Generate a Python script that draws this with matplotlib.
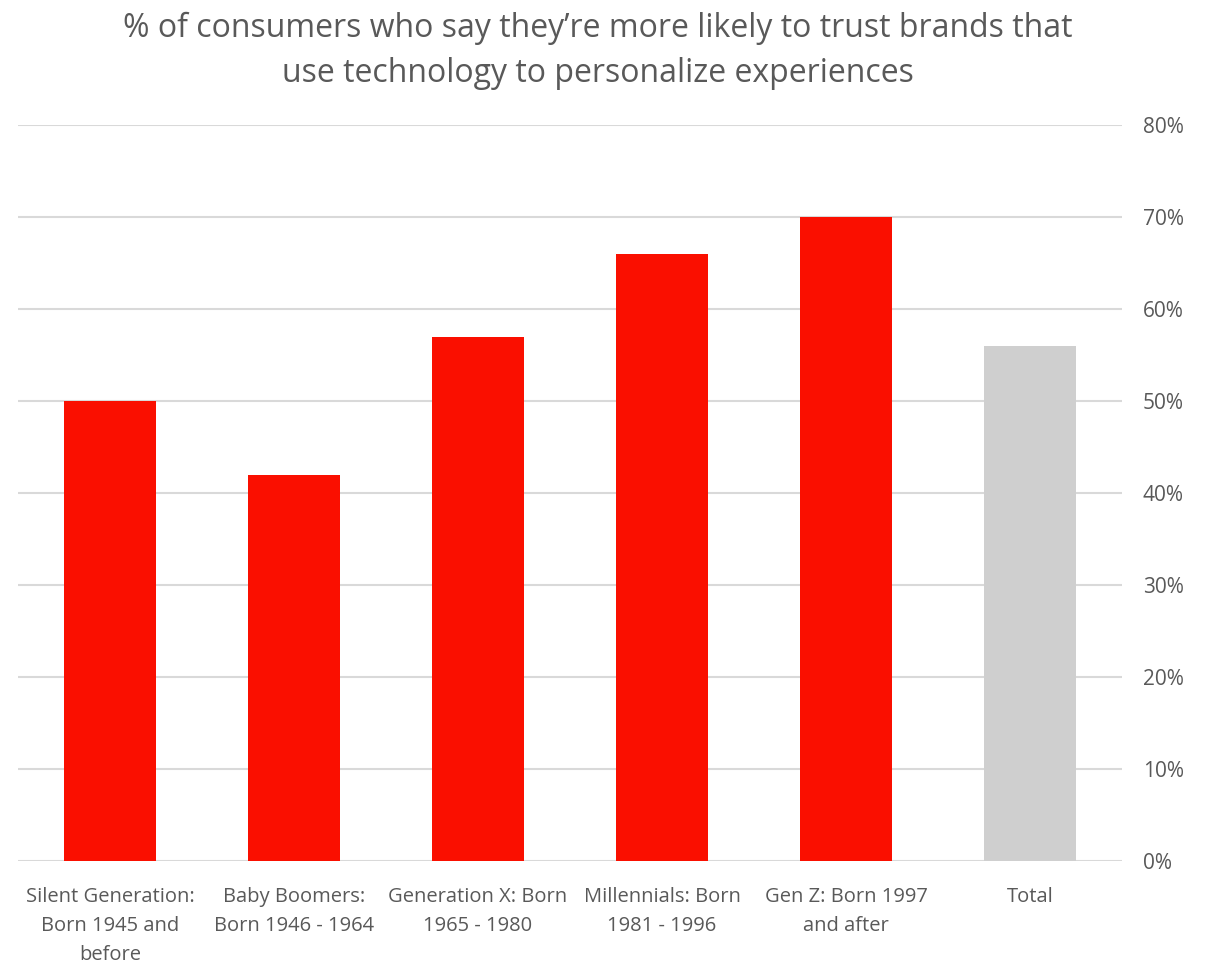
import matplotlib.pyplot as plt
from matplotlib.ticker import PercentFormatter

# share of consumers who trust brands that personalize with technology
categories = [
    "Silent Generation:\nBorn 1945 and\nbefore",
    "Baby Boomers:\nBorn 1946 - 1964",
    "Generation X: Born\n1965 - 1980",
    "Millennials: Born\n1981 - 1996",
    "Gen Z: Born 1997\nand after",
    "Total",
]
values = [0.50, 0.42, 0.57, 0.66, 0.70, 0.56]
bar_colors = ["#FA0F00"] * 5 + ["#CFCFCF"]

TEXT = "#595959"
GRID = "#D9D9D9"

plt.rcParams["font.family"] = ["Open Sans", "DejaVu Sans"]

fig = plt.figure(figsize=(12.11, 9.64), dpi=100)
ax = fig.add_axes([18 / 1211, 1 - 861 / 964, (1122 - 18) / 1211, (861 - 125) / 964])

x = range(len(categories))
ax.bar(x, values, width=0.5, color=bar_colors, zorder=3)

ax.set_xlim(-0.5, len(categories) - 0.5)
ax.set_ylim(0, 0.8)
ax.set_yticks([i / 10 for i in range(9)])
ax.yaxis.set_major_formatter(PercentFormatter(1.0, decimals=0))
ax.yaxis.tick_right()
ax.grid(axis="y", color=GRID, linewidth=1.5, zorder=0)
ax.tick_params(axis="y", length=0, pad=15, labelsize=15, labelcolor=TEXT)
ax.tick_params(axis="x", length=0, pad=19)

ax.set_xticks(list(x))
ax.set_xticklabels(categories, fontsize=14.5, color=TEXT, linespacing=1.6)

for side in ["top", "right", "left", "bottom"]:
    ax.spines[side].set_visible(False)

fig.text(598 / 1211, 1 - 51 / 964,
         "% of consumers who say they\u2019re more likely to trust brands that\n"
         "use technology to personalize experiences",
         ha="center", va="center", fontsize=23, color=TEXT, linespacing=1.45)

fig.savefig("out.png", dpi=100)
